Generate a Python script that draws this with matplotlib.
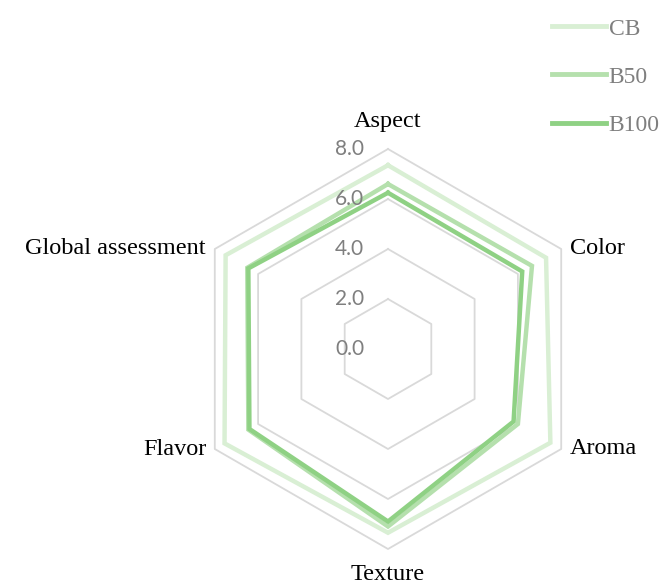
import numpy as np
import matplotlib.pyplot as plt

categories = ["Aspect", "Color", "Aroma", "Texture", "Flavor", "Global assessment"]
series_names = ["CB", "B50", "B100"]
cb = [7.35, 7.3, 7.5, 7.35, 7.55, 7.5]
b50 = [6.6, 6.65, 6.0, 7.1, 6.45, 6.5]
b100 = [6.25, 6.2, 5.8, 6.9, 6.4, 6.45]
tick_values = [0, 2, 4, 6, 8]

colors = ["#d9efd4", "#b5e0ad", "#8fd184"]
grid_color = "#d9d9d9"
label_font = "Liberation Serif"

# pixel layout: 1 data unit = 25 px, center at (388, 349)
W, H = 661, 583
cx, cy, scale = 388, 349, 25.0

fig = plt.figure(figsize=(W / 100, H / 100), dpi=100)
ax = fig.add_axes([0, 0, 1, 1])
ax.set_xlim(-cx / scale, (W - cx) / scale)
ax.set_ylim(-(H - cy) / scale, cy / scale)
ax.axis("off")

n = len(categories)
theta = np.arange(n) * 2 * np.pi / n  # clockwise from top


def to_xy(vals):
    v = np.asarray(vals, dtype=float)
    x = v * np.sin(theta)
    y = v * np.cos(theta)
    return np.append(x, x[0]), np.append(y, y[0])


# hexagonal grid
for t in tick_values[1:]:
    gx, gy = to_xy([t] * n)
    ax.plot(gx, gy, color=grid_color, lw=1.3, zorder=1)

for t in tick_values:
    ax.text(-0.95, t, f"{t:.1f}", ha="right", va="center",
            fontsize=15, color="#7f7f7f", family="Lato", zorder=3)

for name, vals, c in zip(series_names, [cb, b50, b100], colors):
    sx, sy = to_xy(vals)
    ax.plot(sx, sy, color=c, lw=3.2, solid_joinstyle="miter", zorder=2, label=name)

# category labels
r_lab = 8.0
offsets = {
    "Aspect": (0.0, 1.1, "center", "center"),
    "Color": (0.35, 0.0, "left", "center"),
    "Aroma": (0.35, 0.0, "left", "center"),
    "Texture": (0.0, -1.0, "center", "center"),
    "Flavor": (-0.35, 0.0, "right", "center"),
    "Global assessment": (-0.35, 0.0, "right", "center"),
}
for cat, th in zip(categories, theta):
    dx, dy, ha, va = offsets[cat]
    x = r_lab * np.sin(th) + dx
    y = r_lab * np.cos(th) + dy
    ax.text(x, y, cat, ha=ha, va=va, fontsize=17.5, family=label_font, color="black")

leg = fig.legend(loc="upper left", bbox_to_anchor=(552 / W, 1 - 18 / H), frameon=False,
                 prop={"family": label_font, "size": 17}, handlelength=2.3,
                 handletextpad=0.1, labelspacing=1.13, borderpad=0, borderaxespad=0,
                 labelcolor="#7f7f7f")
for line in leg.get_lines():
    line.set_linewidth(3.5)

fig.savefig("out.png", dpi=100)
